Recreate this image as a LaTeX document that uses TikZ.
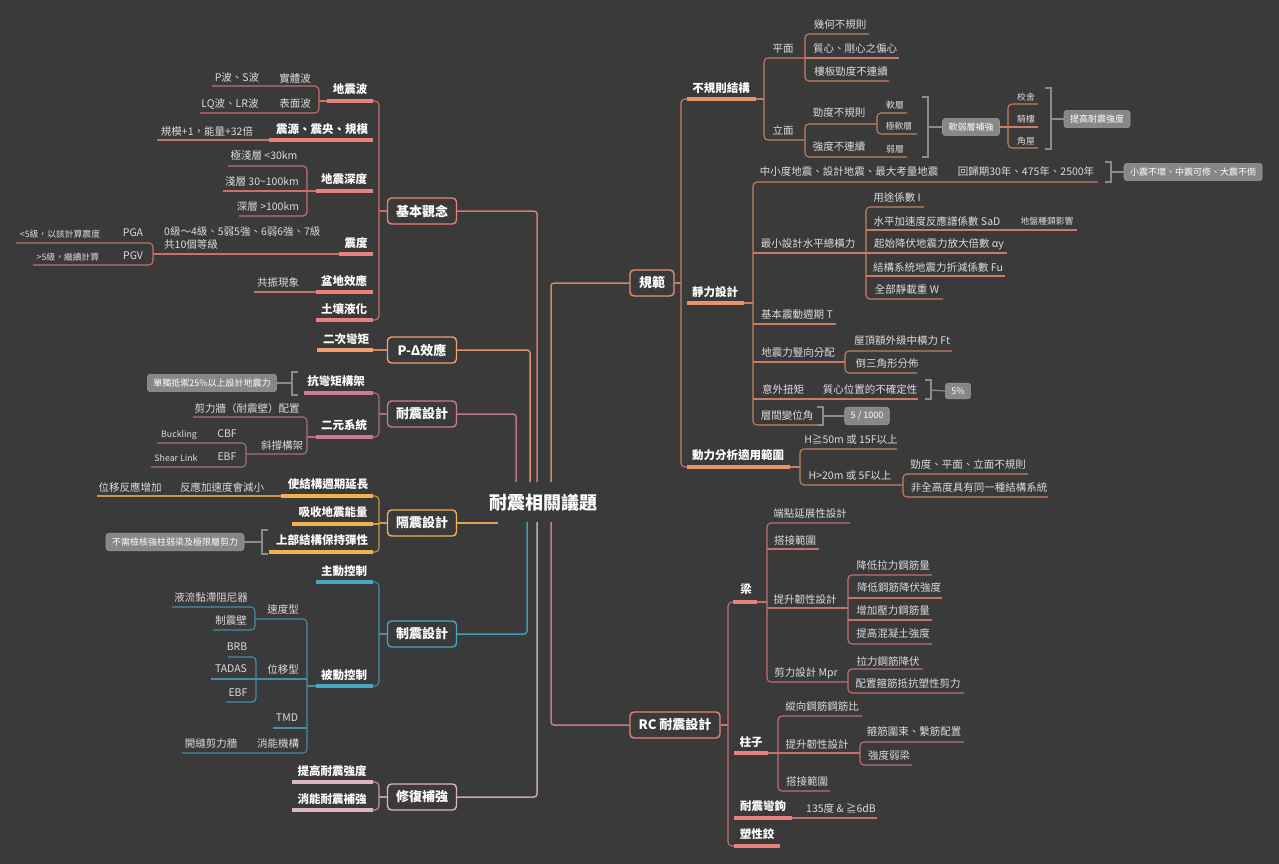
\documentclass[tikz,border=0pt]{standalone}
\usepackage{fontspec}
\setmainfont{Noto Sans CJK TC}
\definecolor{bg}{HTML}{3A3A3A}
\definecolor{txtc}{HTML}{DCDCDC}
\definecolor{lblc}{HTML}{878787}
\definecolor{brk}{HTML}{8C8C8C}
\definecolor{cJB}{RGB}{236,128,126}
\definecolor{cPD}{RGB}{242,160,112}
\definecolor{cND}{RGB}{204,122,154}
\definecolor{cGZ}{RGB}{242,178,84}
\definecolor{cZZ}{RGB}{72,168,194}
\definecolor{cXF}{RGB}{218,182,190}
\definecolor{cGF}{RGB}{234,146,112}
\definecolor{cRC}{RGB}{234,128,128}
\newcommand\branch[1]{\tikzset{ln/.style={line width=1.1pt,draw=#1!78!bg,rounded corners=4pt},ul/.style={line width=3.6pt,draw=#1}}}
\tikzset{
  t/.style={text=txtc,font=\fontsize{10.5}{12.5}\selectfont,inner sep=0pt},
  s/.style={text=txtc,font=\fontsize{8.8}{10}\selectfont,inner sep=0pt},
  b/.style={text=white,font=\bfseries\fontsize{11.5}{13}\selectfont,inner sep=0pt},
  box/.style={draw=#1,line width=1.4pt,rounded corners=4pt,fill=bg,text=white,font=\bfseries\fontsize{13}{13}\selectfont,minimum height=26pt,minimum width=69pt,inner xsep=8pt,inner ysep=0pt},
  rootln/.style={line width=1.5pt,draw=#1!88!bg,rounded corners=3pt},
  lbl/.style={fill=lblc,draw=lblc!85!white,line width=0.6pt,rounded corners=3pt,text=white,font=\fontsize{9}{10}\selectfont,inner xsep=6pt,inner ysep=4.5pt},
  brkt/.style={draw=brk,line width=1.2pt}
}
\begin{document}
\begin{tikzpicture}[x=1pt,y=-1pt]
\useasboundingbox (0,0) rectangle (1279,864);
\fill[bg] (0,0) rectangle (1279,864);

% ---------- root and main topics ----------
\node[text=white,font=\bfseries\fontsize{18}{18}\selectfont,inner sep=0pt] (root) at (543,503) {耐震相關議題};
\node[box=cJB] (jb) at (422,211) {基本觀念};
\node[box=cPD] (pd) at (422,350) {P-Δ效應};
\node[box=cND] (nd) at (422,414) {耐震設計};
\node[box=cGZ] (gz) at (422,523) {隔震設計};
\node[box=cZZ] (zz) at (422,634) {制震設計};
\node[box=cXF] (xf) at (422,797) {修復補強};
\node[box=cGF,minimum width=44pt] (gf) at (652,283) {規範};
\node[box=cRC,minimum width=90pt] (rc) at (675,725) {RC 耐震設計};

\coordinate (rt) at (543,482);
\coordinate (rb) at (543,522);
\draw[rootln=cJB] (jb.east) -- (537,211) -- (537,482);
\draw[rootln=cPD] (pd.east) -- (530,350) -- (530,482);
\draw[rootln=cND] (nd.east) -- (516,414) -- (516,482);
\draw[rootln=cGZ] (gz.east) -- (498,523);
\draw[rootln=cZZ] (zz.east) -- (527,634) -- (527,522);
\draw[rootln=cXF] (xf.east) -- (537,797) -- (537,522);
\draw[rootln=cGF] (gf.west) -- (551,283) -- (551,482);
\draw[rootln=cRC] (rc.west) -- (551,725) -- (551,522);

% ---------- 基本觀念 ----------
\begin{scope}\branch{cJB}
\draw[ln] (jb.west) -- (379,211);
\draw[ln] (373,101) -- (379,101) -- (379,320) -- (373,320);
\node[b] (a1) at (350,89) {地震波};
\draw[ul] (327,101) -- (373,101);
\draw[ln] (212,86) -- (319,86) -- (319,113) -- (200,113);
\draw[ln] (319,101) -- (327,101);
\node[t] (a11) at (295,78) {實體波};
\node[t] (a111) at (237,78) {P波、S波};
\node[t] (a12) at (295,104) {表面波};
\node[t] (a121) at (230,104) {LQ波、LR波};
\node[b] (a2) at (322,129) {震源、震央、規模};
\draw[ul] (269,140) -- (373,140);
\draw[ln] (157,140) -- (269,140);
\node[t] (a21) at (207,131) {規模+1，能量+32倍};
\node[b] (a3) at (344,179) {地震深度};
\draw[ul] (316,191) -- (373,191);
\draw[ln] (228,166) -- (307,166) -- (307,216) -- (239,216);
\draw[ln] (223,191) -- (316,191);
\node[t] (a31) at (264,156) {極淺層 <30km};
\node[t] (a32) at (262,182) {淺層 30\char"7E 100km};
\node[t] (a33) at (268,207) {深層 >100km};
\node[b] (a4) at (356,243) {震度};
\draw[ul] (339,254) -- (373,254);
\draw[ln] (153,254) -- (339,254);
\node[t,align=left,anchor=west] (a41) at (164,238) {0級～4級、5弱5強、6弱6強、7級\\共10個等級};
\draw[ln] (16,243) -- (153,243) -- (153,265) -- (33,265);
\node[t] (a411) at (133,233) {PGA};
\node[s] (a4111) at (60,234) {<5級，以該計算震度};
\node[t] (a412) at (133,256) {PGV};
\node[s] (a4121) at (68,257) {>5級，繼續計算};
\node[b] (a5) at (344,281) {盆地效應};
\draw[ul] (316,292) -- (373,292);
\draw[ln] (254,292) -- (316,292);
\node[t] (a51) at (278,283) {共振現象};
\node[b] (a6) at (344,309) {土壤液化};
\draw[ul] (316,320) -- (373,320);
\end{scope}

% ---------- P-Delta ----------
\begin{scope}\branch{cPD}
\node[b] (p1) at (346,339) {二次彎矩};
\draw[ul] (317,350) -- (373,350);
\draw[ln] (373,350) -- (pd.west);
\end{scope}

% ---------- 耐震設計 ----------
\begin{scope}\branch{cND}
\draw[ln] (nd.west) -- (379,414);
\draw[ln] (373,393) -- (379,393) -- (379,437) -- (373,437);
\node[b] (n1) at (336,381) {抗彎矩構架};
\draw[ul] (304,393) -- (373,393);
\node[lbl] (n1l) at (212,383) {單獨抵禦25\%以上設計地震力};
\draw[brkt] (298,372) -- (292,372) -- (292,395) -- (298,395);
\draw[brkt] (292,383) -- (n1l.east);
\node[b] (n2) at (344,425) {二元系統};
\draw[ul] (316,437) -- (373,437);
\draw[ln] (307,437) -- (316,437);
\draw[ln] (193,417) -- (307,417) -- (307,454) -- (247,454);
\node[t] (n21) at (247,409) {剪力牆（耐震壁）配置};
\node[t] (n22) at (282,446) {斜撐構架};
\draw[ln] (157,443) -- (246,443) -- (246,467) -- (151,467);
\node[t] (n221) at (227,434) {CBF};
\node[s] (n2211) at (179,435) {Buckling};
\node[t] (n222) at (227,457) {EBF};
\node[s] (n2221) at (176,458) {Shear Link};
\end{scope}

% ---------- 隔震設計 ----------
\begin{scope}\branch{cGZ}
\draw[ln] (gz.west) -- (379,523);
\draw[ln] (373,496) -- (379,496) -- (379,552) -- (373,552);
\node[b] (g1) at (328,484) {使結構週期延長};
\draw[ul] (281,496) -- (373,496);
\draw[ln] (97,496) -- (281,496);
\node[t] (g11) at (222,487) {反應加速度會減小};
\node[t] (g111) at (130,487) {位移反應增加};
\node[b] (g2) at (333,512) {吸收地震能量};
\draw[ul] (292,524) -- (373,524);
\draw[ln] (373,524) -- (379,524);
\node[b] (g3) at (322,540) {上部結構保持彈性};
\draw[ul] (269,552) -- (373,552);
\node[lbl] (g3l) at (175,542) {不需檢核強柱弱梁及極限層剪力};
\draw[brkt] (268,530) -- (262,530) -- (262,554) -- (268,554);
\draw[brkt] (262,542) -- (g3l.east);
\end{scope}

% ---------- 制震設計 ----------
\begin{scope}\branch{cZZ}
\draw[ln] (zz.west) -- (379,634);
\draw[ln] (373,582) -- (379,582) -- (379,686) -- (373,686);
\node[b] (z1) at (344,571) {主動控制};
\draw[ul] (316,582) -- (373,582);
\node[b] (z2) at (344,675) {被動控制};
\draw[ul] (316,686) -- (373,686);
\draw[ln] (307,686) -- (316,686);
\draw[ln] (256,619) -- (307,619) -- (307,753) -- (182,753);
\node[t] (z21) at (283,609) {速度型};
\draw[ln] (172,607) -- (255,607) -- (255,630) -- (213,630);
\node[t] (z211) at (211,598) {液流黏滯阻尼器};
\node[t] (z212) at (231,621) {制震壁};
\node[t] (z22) at (283,669) {位移型};
\draw[ln] (211,679) -- (307,679);
\draw[ln] (228,657) -- (256,657) -- (256,702) -- (226,702);
\node[t] (z221) at (237,647) {BRB};
\node[t] (z222) at (231,669) {TADAS};
\node[t] (z223) at (238,693) {EBF};
\node[t] (z23) at (287,718) {TMD};
\draw[ln] (273,728) -- (307,728);
\node[t] (z24) at (278,744) {消能機構};
\node[t] (z241) at (211,744) {開縫剪力牆};
\end{scope}

% ---------- 修復補強 ----------
\begin{scope}\branch{cXF}
\draw[ln] (xf.west) -- (379,797);
\draw[ln] (373,782) -- (379,782) -- (379,810) -- (373,810);
\node[b] (x1) at (332,771) {提高耐震強度};
\draw[ul] (292,782) -- (373,782);
\node[b] (x2) at (332,799) {消能耐震補強};
\draw[ul] (292,810) -- (373,810);
\end{scope}

% ---------- 規範 ----------
\begin{scope}\branch{cGF}
\draw[ln] (gf.east) -- (681,283);
\draw[ln] (687,99) -- (681,99) -- (681,467) -- (687,467);
% 不規則結構
\node[b] (r1) at (721,88) {不規則結構};
\draw[ul] (687,99) -- (756,99);
\draw[ln] (756,99) -- (764,99);
\draw[ln] (805,58) -- (764,58) -- (764,140) -- (805,140);
\node[t] (r11) at (783,49) {平面};
\draw[ln] (869,34) -- (805,34) -- (805,81) -- (889,81);
\draw[ln] (805,58) -- (899,58);
\node[t] (r111) at (840,25) {幾何不規則};
\node[t] (r112) at (855,49) {質心、剛心之偏心};
\node[t] (r113) at (851,72) {樓板勁度不連續};
\node[t] (r12) at (783,130) {立面};
\draw[ln] (877,124) -- (805,124) -- (805,157) -- (907,157);
\node[t] (r121) at (839,113) {勁度不規則};
\draw[ln] (907,113) -- (877,113) -- (877,134) -- (917,134);
\node[s] (r1211) at (895,105) {軟層};
\node[s] (r1212) at (899,126) {極軟層};
\node[t] (r122) at (839,147) {強度不連續};
\node[s] (r1221) at (895,149) {弱層};
\draw[brkt] (922,97) -- (928,97) -- (928,157) -- (922,157);
\node[lbl] (rl1) at (971,127) {軟弱層補強};
\draw[brkt] (928,127) -- (rl1.west);
\draw[ln] (rl1.east) -- (1008,127);
\draw[ln] (1038,104) -- (1008,104) -- (1008,148) -- (1038,148);
\draw[ln] (1008,127) -- (1038,127);
\node[s] (rl11) at (1026,97) {校舍};
\node[s] (rl12) at (1026,119) {騎樓};
\node[s] (rl13) at (1026,141) {角屋};
\draw[brkt] (1045,88) -- (1051,88) -- (1051,149) -- (1045,149);
\node[lbl] (rl2) at (1097,119) {提高耐震強度};
\draw[brkt] (1051,119) -- (rl2.west);
% 靜力設計
\node[b] (r2) at (715,292) {靜力設計};
\draw[ul] (687,303) -- (744,303);
\draw[ln] (744,303) -- (753,303);
\draw[ln] (1098,182) -- (753,182) -- (753,425) -- (817,425);
\node[t] (r21) at (849,172) {中小度地震、設計地震、最大考量地震};
\node[t] (r211) at (1026,172) {回歸期30年、475年、2500年};
\draw[brkt] (1105,162) -- (1111,162) -- (1111,182) -- (1105,182);
\node[lbl] (rl3) at (1193,172) {小震不壞、中震可修、大震不倒};
\draw[brkt] (1111,172) -- (rl3.west);
\node[t] (r22) at (808,244) {最小設計水平總橫力};
\draw[ln] (753,253) -- (866,253);
\draw[ln] (924,207) -- (866,207) -- (866,299) -- (943,299);
\draw[ln] (866,230) -- (1077,230);
\draw[ln] (866,253) -- (1007,253);
\draw[ln] (866,276) -- (1005,276);
\node[t] (r221) at (897,197) {用途係數 I};
\node[t] (r222) at (937,221) {水平加速度反應譜係數 SaD};
\node[s] (r2221) at (1047,221) {地盤種類影響};
\node[t] (r223) at (939,244) {起始降伏地震力放大倍數 αy};
\node[t] (r224) at (938,267) {結構系統地震力折減係數 Fu};
\node[t] (r225) at (907,290) {全部靜載重 W};
\node[t] (r23) at (797,315) {基本震動週期 T};
\draw[ln] (753,324) -- (836,324);
\node[t] (r24) at (798,353) {地震力豎向分配};
\draw[ln] (753,362) -- (845,362);
\draw[ln] (952,351) -- (845,351) -- (845,373) -- (917,373);
\node[t] (r241) at (902,341) {屋頂額外級中橫力 Ft};
\node[t] (r242) at (887,364) {倒三角形分佈};
\node[t] (r25) at (783,389) {意外扭矩};
\draw[ln] (753,399) -- (918,399);
\node[t] (r251) at (870,389) {質心位置的不確定性};
\draw[brkt] (925,380) -- (931,380) -- (931,399) -- (925,399);
\node[lbl] (rl4) at (958,391) {5\%};
\draw[brkt] (931,390) -- (rl4.west);
\node[t] (r26) at (787,416) {層間變位角};
\draw[brkt] (817,407) -- (823,407) -- (823,425) -- (817,425);
\node[lbl] (rl5) at (867,416) {5 / 1000};
\draw[brkt] (823,416) -- (rl5.west);
% 動力分析
\node[b] (r3) at (738,455) {動力分析適用範圍};
\draw[ul] (687,467) -- (790,467);
\draw[ln] (790,467) -- (800,467);
\draw[ln] (897,449) -- (800,449) -- (800,485) -- (903,485);
\node[t] (r31) at (851,439) {H≧50m 或 15F以上};
\node[t] (r32) at (850,476) {H>20m 或 5F以上};
\draw[ln] (1028,474) -- (903,474) -- (903,497) -- (1048,497);
\node[t] (r321) at (968,464) {勁度、平面、立面不規則};
\node[t] (r322) at (979,488) {非全高度具有同一種結構系統};
\end{scope}

% ---------- RC 耐震設計 ----------
\begin{scope}\branch{cRC}
\draw[ln] (rc.east) -- (728,725);
\draw[ln] (734,602) -- (728,602) -- (728,846) -- (734,846);
\node[b] (c1) at (746,589) {梁};
\draw[ul] (733,602) -- (757,602);
\draw[ln] (757,602) -- (767,602);
\draw[ln] (850,523) -- (767,523) -- (767,682) -- (848,682);
\node[t] (c11) at (810,514) {端點延展性設計};
\draw[ln] (767,549) -- (819,549);
\node[t] (c12) at (795,540) {搭接範圍};
\draw[ln] (767,608) -- (848,608);
\node[t] (c13) at (805,599) {提升韌性設計};
\draw[ln] (932,575) -- (848,575) -- (848,644) -- (932,644);
\draw[ln] (848,598) -- (942,598);
\draw[ln] (848,620) -- (932,620);
\node[t] (c131) at (893,565) {降低拉力鋼筋量};
\node[t] (c132) at (899,588) {降低鋼筋降伏強度};
\node[t] (c133) at (893,611) {增加壓力鋼筋量};
\node[t] (c134) at (893,634) {提高混凝土強度};
\node[t] (c14) at (806,673) {剪力設計 Mpr};
\draw[ln] (923,669) -- (848,669) -- (848,693) -- (964,693);
\node[t] (c141) at (888,661) {拉力鋼筋降伏};
\node[t] (c142) at (908,683) {配置箍筋抵抗塑性剪力};
\node[b] (c2) at (751,742) {柱子};
\draw[ul] (734,753) -- (768,753);
\draw[ln] (768,753) -- (778,753);
\draw[ln] (862,716) -- (778,716) -- (778,791) -- (830,791);
\node[t] (c21) at (822,707) {縱向鋼筋鋼筋比};
\draw[ln] (778,753) -- (860,753);
\node[t] (c22) at (817,744) {提升韌性設計};
\draw[ln] (964,742) -- (860,742) -- (860,765) -- (912,765);
\node[t] (c221) at (914,732) {箍筋圍束、繫筋配置};
\node[t] (c222) at (889,756) {強度弱梁};
\node[t] (c23) at (807,781) {搭接範圍};
\node[b] (c3) at (763,806) {耐震彎鉤};
\draw[ul] (734,818) -- (792,818);
\draw[ln] (792,818) -- (877,818);
\node[t] (c31) at (841,808) {135度 \& ≧6dB};
\node[b] (c4) at (757,834) {塑性鉸};
\draw[ul] (734,846) -- (780,846);
\end{scope}
\end{tikzpicture}
\end{document}
